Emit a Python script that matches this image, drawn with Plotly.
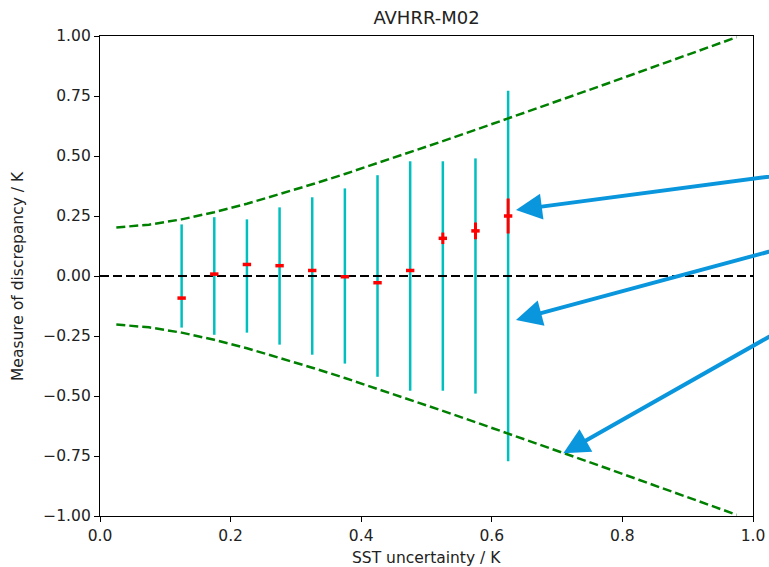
import plotly.graph_objects as go

# SST uncertainty bin centres (K)
bin_centres = [0.125, 0.175, 0.225, 0.275, 0.325, 0.375, 0.425, 0.475, 0.525, 0.575, 0.625]
# mean discrepancy in each bin and its uncertainty
mean_discrepancy = [-0.092, 0.008, 0.048, 0.043, 0.023, -0.003, -0.028, 0.023, 0.157, 0.188, 0.250]
mean_error = [0.005, 0.005, 0.005, 0.005, 0.005, 0.005, 0.005, 0.005, 0.024, 0.035, 0.073]
# half-width of the spread of discrepancies in each bin
spread_halfwidth = [0.215, 0.245, 0.236, 0.286, 0.328, 0.365, 0.42, 0.478, 0.478, 0.49, 0.772]

# expected envelope
envelope_x = [0.025, 0.075, 0.125, 0.175, 0.225, 0.275, 0.325, 0.375, 0.425, 0.475,
              0.525, 0.575, 0.625, 0.675, 0.725, 0.775, 0.825, 0.875, 0.925, 0.975]
envelope_y = [0.202, 0.214, 0.236, 0.266, 0.301, 0.340, 0.382, 0.425, 0.470, 0.515,
              0.562, 0.609, 0.656, 0.704, 0.752, 0.800, 0.849, 0.898, 0.946, 0.995]

x_ticks = [0.0, 0.2, 0.4, 0.6, 0.8, 1.0]
y_ticks = [-1.0, -0.75, -0.5, -0.25, 0.0, 0.25, 0.5, 0.75, 1.0]


def fmt(v, nd):
    s = f"{abs(v):.{nd}f}"
    return ("\u2212" + s) if v < 0 else s


FONT = "DejaVu Sans"
CYAN = "#00bfbf"
GREEN = "#008000"
BLUE = "#0a96dc"
TXT = "#222"

W, H = 769, 567
L, R, T, B = 100, 16, 36, 51

fig = go.Figure()

# spread bars
bx, by = [], []
for x, h in zip(bin_centres, spread_halfwidth):
    bx += [x, x, None]
    by += [-h, h, None]
fig.add_trace(go.Scatter(x=bx, y=by, mode="lines",
                         line=dict(color=CYAN, width=2.5), hoverinfo="skip"))

# zero line
fig.add_trace(go.Scatter(x=[0, 1], y=[0, 0], mode="lines",
                         line=dict(color="black", width=2.2, dash="9px,4px")))

# envelope
for sign in (1, -1):
    fig.add_trace(go.Scatter(x=envelope_x, y=[sign * v for v in envelope_y], mode="lines",
                             line=dict(color=GREEN, width=2.5, dash="9px,4px")))

# mean discrepancy with uncertainty
fig.add_trace(go.Scatter(
    x=bin_centres, y=mean_discrepancy, mode="markers",
    marker=dict(symbol="line-ew", size=6, line=dict(color="red", width=3.5), color="red"),
    error_y=dict(type="data", array=mean_error, color="red", thickness=3, width=0),
))

arrow_common = dict(xref="x", yref="y", axref="x", ayref="y", text="",
                    showarrow=True, arrowhead=2, arrowsize=1.3, arrowwidth=4,
                    arrowcolor=BLUE, standoff=0)
annotations = [
    dict(x=0.637, y=0.275, ax=1.103, ay=0.442, **arrow_common),
    dict(x=0.637, y=-0.183, ax=1.103, ay=0.159, **arrow_common),
    dict(x=0.7095, y=-0.739, ax=1.103, ay=-0.1325, **arrow_common),
    # axis titles
    dict(xref="paper", yref="paper", x=0.5, y=-(558 - (H - B)) / (H - T - B),
         text="SST uncertainty / K", showarrow=False, xanchor="center", yanchor="middle",
         font=dict(family=FONT, size=15.5, color=TXT)),
    dict(xref="paper", yref="paper", x=-(L - 18) / (W - L - R), y=0.5,
         text="Measure of discrepancy / K", showarrow=False, textangle=-90,
         xanchor="center", yanchor="middle",
         font=dict(family=FONT, size=15.5, color=TXT)),
]

axis_common = dict(showline=True, mirror=True, linecolor="black", linewidth=1.3,
                   ticks="outside", ticklen=5, tickwidth=1.3, tickcolor="black",
                   showgrid=False, zeroline=False, automargin=False,
                   tickfont=dict(family=FONT, size=15.5, color=TXT))

fig.update_layout(
    width=W, height=H,
    margin=dict(l=L, r=R, t=T, b=B, autoexpand=False),
    paper_bgcolor="white", plot_bgcolor="white",
    showlegend=False,
    font=dict(family=FONT, color=TXT),
    title=dict(text="AVHRR-M02", x=(L + W - R) / 2 / W, xanchor="center",
               y=1 - 18 / H, yanchor="middle", yref="container",
               font=dict(family=FONT, size=18, color=TXT)),
    xaxis=dict(range=[0, 1], tickvals=x_ticks, ticktext=[fmt(v, 1) for v in x_ticks],
               **axis_common),
    yaxis=dict(range=[-1, 1], tickvals=y_ticks, ticktext=[fmt(v, 2) for v in y_ticks],
               **axis_common),
    annotations=annotations,
)

fig.write_html("out.html")
